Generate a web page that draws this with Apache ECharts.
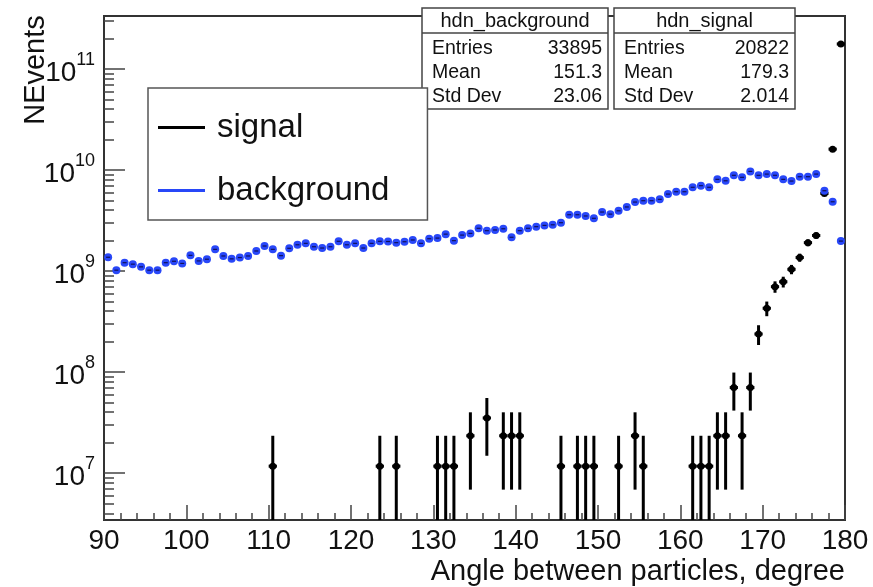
<!DOCTYPE html>
<html>
<head>
<meta charset="utf-8">
<script src="https://cdn.jsdelivr.net/npm/echarts@6/dist/echarts.min.js"></script>
<style>
    html, body { margin: 0; padding: 0; background: #fff; }
    #chart { width: 873px; height: 587px; }
</style>
</head>
<body>
<div id="chart"></div>
<script>
const FONT = '"Liberation Sans", Arial, Helvetica, sans-serif';

// axis ranges
const xMin = 90, xMax = 180, binWidth = 1;
const yMin = 3.43e6, yMax = 3.35e11;
const yMajorTicks = [1e7, 1e8, 1e9, 1e10, 1e11];

// hdn_background, one value per 1 degree bin (90.5 ... 179.5)
const bgValues = [
    1.37e9, 1.02e9, 1.21e9, 1.17e9, 1.10e9, 1.02e9, 1.02e9, 1.21e9, 1.25e9, 1.19e9,
    1.43e9, 1.26e9, 1.31e9, 1.64e9, 1.41e9, 1.32e9, 1.36e9, 1.41e9, 1.58e9, 1.77e9,
    1.64e9, 1.42e9, 1.68e9, 1.82e9, 1.88e9, 1.74e9, 1.69e9, 1.74e9, 1.97e9, 1.82e9,
    1.88e9, 1.69e9, 1.88e9, 1.97e9, 1.96e9, 1.91e9, 1.95e9, 2.03e9, 1.88e9, 2.09e9,
    2.12e9, 2.32e9, 2.00e9, 2.27e9, 2.36e9, 2.65e9, 2.51e9, 2.55e9, 2.62e9, 2.16e9,
    2.51e9, 2.65e9, 2.75e9, 2.83e9, 2.87e9, 3.01e9, 3.61e9, 3.61e9, 3.51e9, 3.33e9,
    3.84e9, 3.66e9, 3.95e9, 4.31e9, 4.82e9, 4.97e9, 4.97e9, 5.13e9, 5.78e9, 6.10e9,
    6.10e9, 6.75e9, 7.00e9, 6.75e9, 8.09e9, 7.83e9, 8.87e9, 8.47e9, 9.70e9, 8.87e9,
    9.12e9, 8.87e9, 8.09e9, 7.78e9, 8.59e9, 8.59e9, 9.12e9, 6.24e9, 4.85e9, 1.98e9
];

// hdn_signal, only the filled bins
const signalAngles = [
    110.5, 123.5, 125.5, 130.5, 131.5, 132.5, 134.5, 136.5, 138.5, 139.5,
    140.5, 145.5, 147.5, 148.5, 149.5, 152.5, 154.5, 155.5, 161.5, 162.5,
    163.5, 164.5, 165.5, 166.5, 167.5, 168.5, 169.5, 170.5, 171.5, 172.5,
    173.5, 174.5, 175.5, 176.5, 177.5, 178.5, 179.5
];
const signalValues = [
    1.17e7, 1.17e7, 1.17e7, 1.17e7, 1.17e7, 1.17e7, 2.34e7, 3.51e7, 2.34e7, 2.34e7,
    2.34e7, 1.17e7, 1.17e7, 1.17e7, 1.17e7, 1.17e7, 2.34e7, 1.17e7, 1.17e7, 1.17e7,
    1.17e7, 2.34e7, 2.34e7, 7.02e7, 2.34e7, 7.02e7, 2.38e8, 4.28e8, 7.00e8, 7.83e8,
    1.04e9, 1.36e9, 1.91e9, 2.25e9, 5.87e9, 1.61e10, 1.77e11
];
const signalWeight = 1.17e7; // weight of one entry

const statTitles = ['hdn_background', 'hdn_signal'];
const statLabels = ['Entries', 'Mean', 'Std Dev'];
const bgStats = ['33895', '151.3', '23.06'];
const signalStats = ['20822', '179.3', '2.014'];

const BLUE = '#2847f8';

// minor ticks of the log axis (2..9 x 10^n)
const yMinorTicks = [];
for (let n = 6; n <= 11; n++) {
    for (let k = 2; k <= 9; k++) {
        const t = k * Math.pow(10, n);
        if (t > yMin && t < yMax) yMinorTicks.push(t);
    }
}

const bgData = bgValues.map((v, i) => [xMin + binWidth * (i + 0.5), v]);
const signalData = signalValues.map((v, i) => {
    const err = Math.sqrt(v * signalWeight);
    return [signalAngles[i], v, Math.max(v - err, yMin), v + err];
});

const renderSignal = (params, api) => {
    const x = api.value(0);
    const v = api.value(1);
    const c = api.coord([x, v]);
    const l = api.coord([x - binWidth / 2, v]);
    const r = api.coord([x + binWidth / 2, v]);
    const top = api.coord([x, api.value(3)]);
    const bot = api.coord([x, api.value(2)]);
    const style = { stroke: '#000', lineWidth: 3 };
    return {
        type: 'group',
        children: [
            { type: 'line', shape: { x1: c[0], y1: bot[1], x2: c[0], y2: top[1] }, style },
            { type: 'line', shape: { x1: l[0], y1: c[1], x2: r[0], y2: c[1] }, style },
            { type: 'circle', shape: { cx: c[0], cy: c[1], r: 3.5 }, style: { fill: '#000' } }
        ]
    };
};

const renderBackground = (params, api) => {
    const c = api.coord([api.value(0), api.value(1)]);
    return {
        type: 'group',
        children: [
            { type: 'circle', shape: { cx: c[0], cy: c[1], r: 4 }, style: { fill: BLUE } },
            { type: 'line', shape: { x1: c[0] - 2, y1: c[1], x2: c[0] + 2, y2: c[1] }, style: { stroke: '#10105a', lineWidth: 1.2 } }
        ]
    };
};

// stat boxes (ROOT style)
const statBox = (left, width, title, values) => {
    const children = [
        { type: 'rect', shape: { x: left, y: 8, width: width, height: 101 }, style: { fill: '#fff', stroke: '#444', lineWidth: 1.5 } },
        { type: 'line', shape: { x1: left, y1: 33, x2: left + width, y2: 33 }, style: { stroke: '#444', lineWidth: 1.5 } },
        { type: 'text', x: left + width / 2, y: 21, style: { text: title, font: '20px ' + FONT, fill: '#111', align: 'center', verticalAlign: 'middle' } }
    ];
    const rowsY = [49, 73, 97];
    statLabels.forEach((lab, i) => {
        children.push({ type: 'text', x: left + 10, y: rowsY[i], style: { text: lab, font: '19.5px ' + FONT, fill: '#111', align: 'left', verticalAlign: 'middle' } });
        children.push({ type: 'text', x: left + width - 6, y: rowsY[i], style: { text: values[i], font: '19.5px ' + FONT, fill: '#111', align: 'right', verticalAlign: 'middle' } });
    });
    return { type: 'group', z: 100, children };
};

const chart = echarts.init(document.getElementById('chart'));
const option = {
    animation: false,
    backgroundColor: '#fff',
    grid: {
        left: 104, right: 28, top: 16, bottom: 67,
        show: true, borderColor: '#333', borderWidth: 2, backgroundColor: 'transparent'
    },
    legend: {
        left: 148, top: 88,
        orient: 'vertical',
        data: [{ name: 'signal', icon: 'rect' }, { name: 'background', icon: 'rect' }],
        itemWidth: 47, itemHeight: 3, itemGap: 30,
        padding: [23, 38, 13, 10],
        backgroundColor: '#fff', borderColor: '#555', borderWidth: 1.5,
        textStyle: { fontSize: 33, fontFamily: FONT, color: '#111', padding: [0, 0, 0, 7] },
        selectedMode: false
    },
    xAxis: {
        type: 'value', min: xMin, max: xMax, interval: 10,
        name: 'Angle between particles, degree',
        nameLocation: 'end', nameGap: 0,
        nameTextStyle: { fontSize: 29, fontFamily: FONT, color: '#111', align: 'right', verticalAlign: 'top', padding: [37, 0, 0, 0] },
        axisLine: { lineStyle: { color: '#333', width: 2 } },
        axisTick: { inside: true, length: 15, lineStyle: { color: '#444', width: 1.5 } },
        minorTick: { show: true, splitNumber: 5, length: 7, lineStyle: { color: '#444', width: 1.5 } },
        axisLabel: { fontSize: 28, fontFamily: FONT, color: '#111', margin: 7 },
        splitLine: { show: false }
    },
    yAxis: [{
        type: 'log', logBase: 10, min: yMin, max: yMax,
        axisLine: { show: true, lineStyle: { color: '#333', width: 2 } },
        axisTick: { inside: true, length: 21, customValues: yMajorTicks, lineStyle: { color: '#444', width: 1.5 } },
        axisLabel: {
            customValues: yMajorTicks,
            margin: 9,
            formatter: (v) => '{b|10}{s|' + Math.round(Math.log10(v)) + '}',
            rich: {
                b: { fontSize: 28, fontFamily: FONT, color: '#111', lineHeight: 36, verticalAlign: 'bottom' },
                s: { fontSize: 18, fontFamily: FONT, color: '#111', lineHeight: 18, verticalAlign: 'top' }
            }
        },
        splitLine: { show: false }
    }, {
        type: 'log', logBase: 10, min: yMin, max: yMax, position: 'left',
        axisLine: { show: false },
        axisTick: { inside: true, length: 10, customValues: yMinorTicks, lineStyle: { color: '#444', width: 1.5 } },
        axisLabel: { show: false },
        splitLine: { show: false }
    }],
    series: [{
        name: 'signal',
        type: 'custom',
        clip: true,
        itemStyle: { color: '#000' },
        renderItem: renderSignal,
        data: signalData,
        z: 3
    }, {
        name: 'background',
        type: 'custom',
        clip: true,
        itemStyle: { color: BLUE },
        renderItem: renderBackground,
        data: bgData,
        z: 4
    }],
    graphic: [
        {
            type: 'text', x: 36, y: 70, rotation: Math.PI / 2,
            style: { text: 'NEvents', font: '29px ' + FONT, fill: '#111', align: 'center', verticalAlign: 'middle' }
        },
        statBox(422, 186, statTitles[0], bgStats),
        statBox(614, 181, statTitles[1], signalStats)
    ]
};
chart.setOption(option);
window.addEventListener('resize', () => chart.resize());
</script>
</body>
</html>
